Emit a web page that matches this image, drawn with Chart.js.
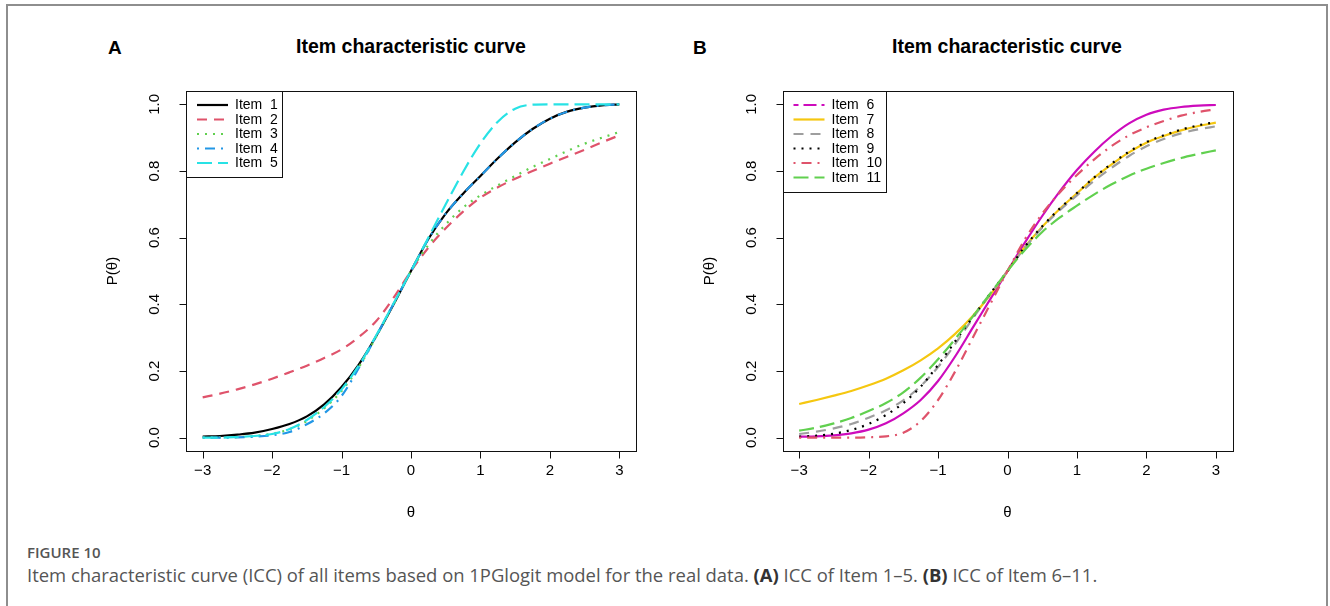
<!DOCTYPE html>
<html>
<head>
<meta charset="utf-8">
<script src="https://cdn.jsdelivr.net/npm/chart.js@4.4.1/dist/chart.umd.min.js"></script>
<style>
  html, body { margin: 0; padding: 0; background: #fff; }
  body { width: 1330px; height: 606px; position: relative; overflow: hidden; font-family: "Liberation Sans", Arial, sans-serif; }
  .frame { position: absolute; left: 6px; top: 4px; width: 1322px; height: 660px; border: 2px solid #8e8e8e; box-sizing: border-box; }
  canvas { position: absolute; }
  .letter { position: absolute; font: bold 19px "Liberation Sans", Arial, sans-serif; color: #000; }
  .title { position: absolute; font: bold 19.5px "Liberation Sans", Arial, sans-serif; color: #000; transform: translateX(-50%); white-space: nowrap; }
  .fig { position: absolute; left: 27px; top: 542px; font: 600 15px "Open Sans", sans-serif; color: #555; }
  .cap { position: absolute; left: 27px; top: 562px; font: 18.45px "Open Sans", sans-serif; color: #555; white-space: nowrap; }
  .cap b { color: #333; }
</style>
</head>
<body>
<div class="frame"></div>
<div class="letter" style="left:108px; top:37px;">A</div>
<div class="title" style="left:411px; top:35px;">Item characteristic curve</div>
<div class="letter" style="left:693px; top:37px;">B</div>
<div class="title" style="left:1007px; top:35px;">Item characteristic curve</div>
<canvas id="chartA" width="600" height="520" style="left:60px; top:20px;"></canvas>
<canvas id="chartB" width="600" height="520" style="left:656px; top:20px;"></canvas>
<div class="fig">FIGURE 10</div>
<div class="cap">Item characteristic curve (ICC) of all items based on 1PGlogit model for the real data. <b>(A)</b> ICC of Item 1–5. <b>(B)</b> ICC of Item 6–11.</div>

<script>
// Ability grid (theta) and the probability of a correct response per item
const theta = [-3, -2.75, -2.5, -2.25, -2, -1.75, -1.5, -1.25, -1, -0.75, -0.5, -0.25, 0,
               0.25, 0.5, 0.75, 1, 1.25, 1.5, 1.75, 2, 2.25, 2.5, 2.75, 3];

const item1  = [0.003, 0.005, 0.009, 0.015, 0.026, 0.041, 0.064, 0.100, 0.152, 0.220, 0.305, 0.400, 0.500,
                0.596, 0.672, 0.732, 0.785, 0.838, 0.886, 0.926, 0.957, 0.978, 0.990, 0.997, 1.000];
const item2  = [0.121, 0.132, 0.145, 0.160, 0.177, 0.196, 0.216, 0.239, 0.265, 0.302, 0.350, 0.420, 0.500,
                0.570, 0.628, 0.678, 0.720, 0.751, 0.777, 0.800, 0.822, 0.843, 0.864, 0.886, 0.907];
const item3  = [0.000, 0.001, 0.002, 0.005, 0.012, 0.025, 0.050, 0.088, 0.140, 0.212, 0.303, 0.400, 0.500,
                0.578, 0.640, 0.690, 0.727, 0.757, 0.785, 0.812, 0.836, 0.860, 0.882, 0.900, 0.917];
const item4  = [0.000, 0.000, 0.001, 0.003, 0.007, 0.017, 0.040, 0.073, 0.125, 0.210, 0.305, 0.402, 0.500,
                0.596, 0.672, 0.732, 0.785, 0.838, 0.886, 0.926, 0.957, 0.978, 0.990, 0.997, 1.000];
const item5  = [0.000, 0.000, 0.002, 0.005, 0.011, 0.026, 0.053, 0.092, 0.145, 0.217, 0.307, 0.403, 0.500,
                0.600, 0.700, 0.797, 0.883, 0.948, 0.987, 0.999, 1.000, 1.000, 1.000, 1.000, 1.000];

const item6  = [0.003, 0.004, 0.007, 0.013, 0.024, 0.043, 0.073, 0.113, 0.170, 0.245, 0.330, 0.415, 0.500,
                0.585, 0.665, 0.738, 0.803, 0.858, 0.905, 0.943, 0.969, 0.984, 0.992, 0.996, 0.998];
const item7  = [0.101, 0.113, 0.126, 0.140, 0.157, 0.177, 0.202, 0.232, 0.268, 0.312, 0.365, 0.428, 0.500,
                0.572, 0.633, 0.686, 0.733, 0.780, 0.820, 0.856, 0.885, 0.905, 0.922, 0.935, 0.945];
const item8  = [0.011, 0.018, 0.028, 0.041, 0.060, 0.082, 0.112, 0.155, 0.212, 0.282, 0.358, 0.430, 0.500,
                0.570, 0.630, 0.682, 0.727, 0.771, 0.810, 0.845, 0.874, 0.896, 0.913, 0.925, 0.934];
const item9  = [0.003, 0.006, 0.012, 0.023, 0.041, 0.068, 0.104, 0.153, 0.218, 0.290, 0.362, 0.432, 0.500,
                0.573, 0.634, 0.687, 0.734, 0.781, 0.822, 0.858, 0.887, 0.907, 0.924, 0.937, 0.947];
const item10 = [0.000, 0.000, 0.000, 0.000, 0.001, 0.004, 0.015, 0.050, 0.113, 0.200, 0.300, 0.400, 0.500,
                0.595, 0.672, 0.735, 0.788, 0.835, 0.875, 0.907, 0.931, 0.950, 0.966, 0.977, 0.985];
const item11 = [0.021, 0.030, 0.043, 0.059, 0.080, 0.104, 0.136, 0.180, 0.235, 0.297, 0.363, 0.432, 0.500,
                0.563, 0.617, 0.660, 0.696, 0.730, 0.760, 0.786, 0.807, 0.824, 0.839, 0.851, 0.862];

// Axis ticks and labels
const xTickValues = [-3, -2, -1, 0, 1, 2, 3];
const xTickLabels = ['\u22123', '\u22122', '\u22121', '0', '1', '2', '3'];
const yTickValues = [0, 0.2, 0.4, 0.6, 0.8, 1.0];
const yTickLabels = ['0.0', '0.2', '0.4', '0.6', '0.8', '1.0'];
const xTitle = '\u03b8';
const yTitle = 'P(\u03b8)';

// Line patterns in the style of base R graphics
const LTY = {
  solid: [],
  dashed: [10, 7],
  dotted: [2, 6],
  dotdash: [2, 6, 10, 6],
  longdash: [15, 6],
  twodash: [5, 5, 13, 5]
};

let seriesIndex = 0;
function series(label, values, color, dash, legendDash) {
  return {
    label: label,
    data: theta.map((t, i) => ({ x: t, y: values[i] })),
    borderColor: color,
    backgroundColor: color,
    borderWidth: 2.2,
    borderDash: dash,
    legendDash: legendDash || dash,
    pointRadius: 0,
    fill: false,
    cubicInterpolationMode: 'monotone',
    order: -(seriesIndex++)   // later items are painted over earlier ones
  };
}

// Base-R style box, outward ticks, rotated y labels and boxed legend
const rFrame = {
  id: 'rFrame',
  afterDraw(chart, args, opts) {
    const ctx = chart.ctx;
    const a = chart.chartArea;
    const xs = chart.scales.x, ys = chart.scales.y;
    ctx.save();
    ctx.setLineDash([]);
    ctx.strokeStyle = '#111';
    ctx.lineWidth = 1;
    ctx.strokeRect(Math.round(a.left) + 0.5, Math.round(a.top) + 0.5,
                   Math.round(a.right - a.left), Math.round(a.bottom - a.top));
    ctx.beginPath();
    const b = Math.round(a.bottom) + 0.5, l = Math.round(a.left) + 0.5;
    xTickValues.forEach(v => {
      const px = Math.round(xs.getPixelForValue(v)) + 0.5;
      ctx.moveTo(px, b); ctx.lineTo(px, b + 7);
    });
    yTickValues.forEach(v => {
      const py = Math.round(ys.getPixelForValue(v)) + 0.5;
      ctx.moveTo(l, py); ctx.lineTo(l - 7, py);
    });
    ctx.stroke();

    ctx.fillStyle = '#000';
    ctx.font = '15px "Liberation Sans", Arial, sans-serif';
    ctx.textAlign = 'center';
    ctx.textBaseline = 'middle';
    xTickValues.forEach((v, i) => ctx.fillText(xTickLabels[i], xs.getPixelForValue(v), a.bottom + 20));
    yTickValues.forEach((v, i) => {
      ctx.save();
      ctx.translate(a.left - 31, ys.getPixelForValue(v));
      ctx.rotate(-Math.PI / 2);
      ctx.fillText(yTickLabels[i], 0, 0);
      ctx.restore();
    });
    ctx.fillText(xTitle, (a.left + a.right) / 2, a.bottom + 62);
    ctx.save();
    ctx.translate(a.left - 73, (a.top + a.bottom) / 2);
    ctx.rotate(-Math.PI / 2);
    ctx.fillText(yTitle, 0, 0);
    ctx.restore();

    // legend
    const ds = chart.data.datasets;
    const row = 14.5;
    const bw = opts.legendWidth;
    const bh = 14 + row * (ds.length - 1) + 14;
    ctx.fillStyle = '#fff';
    ctx.fillRect(l, Math.round(a.top) + 0.5, bw, bh);
    ctx.strokeStyle = '#111';
    ctx.lineWidth = 1;
    ctx.strokeRect(l, Math.round(a.top) + 0.5, bw, Math.round(bh));
    ctx.font = '14px "Liberation Sans", Arial, sans-serif';
    ctx.textAlign = 'left';
    ds.forEach((d, i) => {
      const yy = a.top + 14 + row * i;
      ctx.beginPath();
      ctx.strokeStyle = d.borderColor;
      ctx.lineWidth = 2.2;
      ctx.setLineDash(d.legendDash);
      ctx.moveTo(a.left + 11, yy);
      ctx.lineTo(a.left + 42, yy);
      ctx.stroke();
      ctx.setLineDash([]);
      ctx.fillStyle = '#000';
      ctx.fillText(d.label, a.left + 49, yy + 0.5);
    });
    ctx.restore();
  }
};

function makeChart(id, datasets, pad, legendWidth) {
  return new Chart(document.getElementById(id), {
    type: 'line',
    data: { datasets: datasets },
    options: {
      responsive: false,
      animation: false,
      devicePixelRatio: 1,
      layout: { padding: pad },
      scales: {
        x: { type: 'linear', min: -3.24, max: 3.24, display: false },
        y: { type: 'linear', min: -0.04, max: 1.04, display: false }
      },
      plugins: {
        legend: { display: false },
        tooltip: { enabled: false },
        rFrame: { legendWidth: legendWidth }
      }
    },
    plugins: [rFrame]
  });
}

makeChart('chartA', [
  series('Item  1', item1, '#000000', LTY.solid),
  series('Item  2', item2, '#DF536B', LTY.dashed),
  series('Item  3', item3, '#61D04F', LTY.dotted),
  series('Item  4', item4, '#2297E6', LTY.dotdash),
  series('Item  5', item5, '#28E2E5', LTY.longdash)
], { left: 126, top: 71, right: 24, bottom: 89 }, 96);

seriesIndex = 0;
makeChart('chartB', [
  series('Item  6', item6, '#CD0BBC', LTY.solid, LTY.twodash),
  series('Item  7', item7, '#F5C710', LTY.solid),
  series('Item  8', item8, '#9E9E9E', LTY.dashed),
  series('Item  9', item9, '#000000', LTY.dotted),
  series('Item  10', item10, '#DF536B', LTY.dotdash),
  series('Item  11', item11, '#61D04F', LTY.longdash)
], { left: 126.5, top: 71, right: 23.5, bottom: 89 }, 103);
</script>
</body>
</html>
